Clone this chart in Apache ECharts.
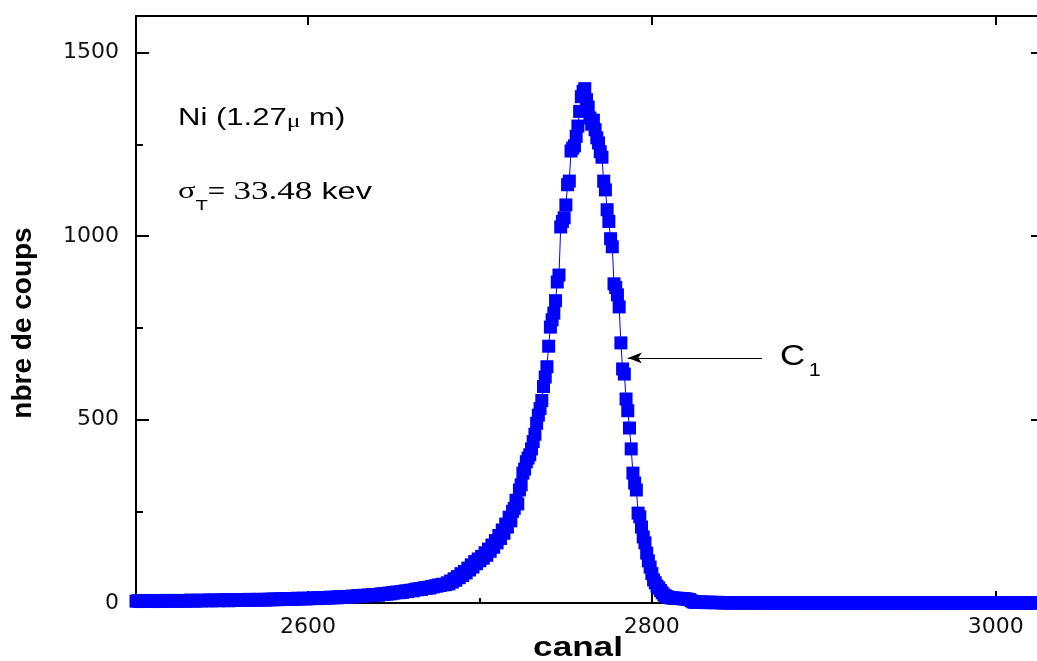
<!DOCTYPE html>
<html><head><meta charset="utf-8">
<script src="https://cdn.jsdelivr.net/npm/echarts@6/dist/echarts.min.js"></script>
<style>html,body{margin:0;padding:0;background:#fff}#c{width:1037px;height:661px}</style>
</head><body><div id="c"></div>
<script>
// ---- data ----
const firstChannel = 2500;   // counts[i] belongs to channel firstChannel + i
const counts = [
  5,6,5,4,6,5,7,5,6,5,6,4,5,6,7,5,6,6,5,7,
  6,5,7,6,5,6,7,6,5,6,7,6,8,6,5,7,6,7,6,8,
  7,6,7,8,6,7,8,7,6,8,7,9,7,8,6,8,7,9,8,7,
  8,9,7,8,9,8,10,8,9,8,9,10,8,9,10,9,8,10,9,11,
  9,10,11,9,10,12,10,11,10,12,11,10,12,11,13,11,12,13,12,11,
  12,13,12,14,13,12,14,13,15,14,13,15,14,16,14,15,16,14,17,15,
  16,17,15,18,16,17,19,17,18,20,18,19,21,19,20,22,20,21,23,22,
  23,21,24,25,23,26,24,27,25,28,27,29,30,28,31,29,32,33,31,34,
  35,33,36,38,36,39,37,40,42,40,43,41,45,44,47,46,49,48,51,50,
  50,55,52,60,57,66,62,72,69,80,75,86,82,95,90,104,98,113,107,120,
  115,127,122,137,130,147,141,158,152,170,164,184,176,199,190,215,207,234,224,250,
  258,280,270,308,322,354,365,385,395,404,420,440,460,490,512,530,552,590,616,644,
  700,752,772,790,824,875,894,1025,1040,1050,1085,1140,1150,1232,1240,1246,1272,1300,1340,1380,
  1395,1402,1372,1352,1322,1305,1316,1290,1268,1254,1230,1215,1150,1126,1072,1040,993,971,870,860,
  840,807,709,638,624,556,524,477,420,354,327,308,245,235,207,180,164,136,115,98,
  80,63,55,46,41,34,28,22,19,17,15,14,14,13,13,13,12,12,12,11,
  11,10,9,6,3,2,2,2,3,2,2,1,2,2,1,2,1,1,2,1,
  1,1,0,1,1,0,1,0,1,1,0,1,0,0,1,1,0,1,0,1,
  0,1,1,0,0,1,0,1,0,0,1,0,1,0,0,1,0,0,1,0,
  1,0,0,1,0,0,1,0,1,0,0,0,1,0,0,1,0,0,0,1,
  0,0,1,0,0,0,1,0,0,1,0,0,0,1,0,0,0,1,0,0,
  1,0,0,0,1,0,0,0,0,1,0,0,1,0,0,0,1,0,0,0,
  0,1,0,0,0,1,0,0,0,0,1,0,0,1,0,0,0,0,1,0,
  0,0,1,0,0,0,0,1,0,0,0,1,0,0,0,0,1,0,0,0,
  1,0,0,0,0,1,0,0,0,1,0,0,0,0,1,0,0,0,0,1,
  0,0,0,1,0,0,0,0,1,0,0,0,0,0,1,0,0,0,0,1,
  0,0,0,1
];
const xTickLabels = [2600, 2800, 3000];
const xMinorTicks = [2700, 2900];
const yTickLabels = [0, 500, 1000, 1500];
const yMinorTicks = [250, 750, 1250];
const xTitle = 'canal';
const yTitle = 'nbre de coups';
const peakName = 'C';
const peakIndex = '1';
const sampleLabel = ['Ni (1.27', 'μ', ' m)'];
const sigmaLabel = ['σ', 'T', '= ', '33.48', ' kev'];
const arrowStart = [2864, 668];
const arrowEnd = [2786, 668];

// ---- build ----
const seriesData = counts.map((c, i) => [firstChannel + i, c]);
const chart = echarts.init(document.getElementById('c'), null, {renderer: 'canvas'});
const black = '#000';
const plain = v => String(v);
const tickFont = {fontFamily: 'DejaVu Sans', fontSize: 22, color: '#111', formatter: plain};

chart.setOption({
  animation: false,
  backgroundColor: '#fff',
  grid: {left: 136, right: 0, top: 16, bottom: 58, containLabel: false},
  xAxis: [
    {type: 'value', position: 'bottom', min: 2500, max: 3024,
     axisLine: {show: true, onZero: false, lineStyle: {color: black, width: 2}},
     axisTick: {show: true, inside: true, length: 12, customValues: xTickLabels, lineStyle: {color: black, width: 2}},
     axisLabel: Object.assign({show: true, margin: 13, customValues: xTickLabels}, tickFont),
     splitLine: {show: false}},
    {type: 'value', position: 'bottom', min: 2500, max: 3024,
     axisLine: {show: false},
     axisTick: {show: true, inside: true, length: 5, customValues: xMinorTicks, lineStyle: {color: black, width: 2}},
     axisLabel: {show: false}, splitLine: {show: false}},
    {type: 'value', position: 'top', min: 2500, max: 3024,
     axisLine: {show: true, onZero: false, lineStyle: {color: black, width: 2}},
     axisTick: {show: true, inside: true, length: 9, customValues: xTickLabels, lineStyle: {color: black, width: 2}},
     axisLabel: {show: false}, splitLine: {show: false}}
  ],
  yAxis: [
    {type: 'value', position: 'left', min: 0, max: 1600,
     axisLine: {show: true, onZero: false, lineStyle: {color: black, width: 2}},
     axisTick: {show: true, inside: true, length: 13, customValues: yTickLabels, lineStyle: {color: black, width: 2}},
     axisLabel: Object.assign({show: true, margin: 17, customValues: yTickLabels}, tickFont),
     splitLine: {show: false}},
    {type: 'value', position: 'left', min: 0, max: 1600,
     axisLine: {show: false},
     axisTick: {show: true, inside: true, length: 7, customValues: yMinorTicks, lineStyle: {color: black, width: 2}},
     axisLabel: {show: false}, splitLine: {show: false}},
    {type: 'value', position: 'right', min: 0, max: 1600,
     axisLine: {show: false},
     axisTick: {show: true, inside: true, length: 6, customValues: yTickLabels, lineStyle: {color: black, width: 2}},
     axisLabel: {show: false}, splitLine: {show: false}}
  ],
  series: [{
    type: 'line', xAxisIndex: 0, yAxisIndex: 0, data: seriesData,
    symbol: 'rect', symbolSize: 13, showSymbol: true, showAllSymbol: true,
    itemStyle: {color: '#0000ff'}, lineStyle: {color: '#0000ff', width: 1},
    silent: true, z: 3,
    markLine: {
      silent: true, animation: false,
      symbol: ['none', 'arrow'],
      label: {show: false},
      lineStyle: {color: black, width: 1, type: 'solid'},
      emphasis: {disabled: true},
      data: [[{coord: arrowStart, symbol: 'none'}, {coord: arrowEnd, symbol: 'arrow', symbolSize: [8, 14]}]]
    }
  }],
  graphic: [
    {type: 'text', x: 23, y: 323, rotation: Math.PI / 2,
     style: {text: yTitle, fontFamily: 'Liberation Sans', fontWeight: 'bold', fontSize: 28, fill: black, align: 'center', verticalAlign: 'middle'}},
    {type: 'text', x: 578, y: 649, scaleX: 1.3,
     style: {text: xTitle, fontFamily: 'Liberation Sans', fontWeight: 'bold', fontSize: 27, fill: black, align: 'center', verticalAlign: 'middle'}},
    {type: 'text', x: 178, y: 119, scaleX: 1.35,
     style: {text: '{a|' + sampleLabel[0] + '}{u|' + sampleLabel[1] + '}{a|' + sampleLabel[2] + '}',
       align: 'left', verticalAlign: 'middle',
       rich: {
         a: {fontFamily: 'Liberation Sans', fontSize: 23, fill: black, lineHeight: 28},
         u: {fontFamily: 'Liberation Serif', fontSize: 19, fill: black, lineHeight: 19, padding: [6, 0, 0, 0]}
       }}},
    {type: 'text', x: 178, y: 192, scaleX: 1.35,
     style: {text: '{s|' + sigmaLabel[0] + '}{t|' + sigmaLabel[1] + '}{e|' + sigmaLabel[2] + '}{n|' + sigmaLabel[3] + '}{k|' + sigmaLabel[4] + '}',
       align: 'left', verticalAlign: 'middle',
       rich: {
         s: {fontFamily: 'Liberation Serif', fontSize: 24, fill: black, lineHeight: 28},
         t: {fontFamily: 'Liberation Sans', fontSize: 15, fill: black, lineHeight: 15, padding: [27, 0, 0, 0]},
         e: {fontFamily: 'Liberation Sans', fontSize: 22, fill: black, lineHeight: 28},
         n: {fontFamily: 'Liberation Serif', fontSize: 26, fill: black, lineHeight: 28},
         k: {fontFamily: 'Liberation Sans', fontSize: 24, fill: black, lineHeight: 28}
       }}},
    {type: 'text', x: 780, y: 357, scaleX: 1.2,
     style: {text: '{c|' + peakName + '}{o|' + peakIndex + '}',
       align: 'left', verticalAlign: 'middle',
       rich: {
         c: {fontFamily: 'Liberation Sans', fontSize: 29, fill: black, lineHeight: 30},
         o: {fontFamily: 'Liberation Sans', fontSize: 18, fill: black, lineHeight: 18, padding: [29, 0, 0, 3]}
       }}}
  ]
});
</script></body></html>
